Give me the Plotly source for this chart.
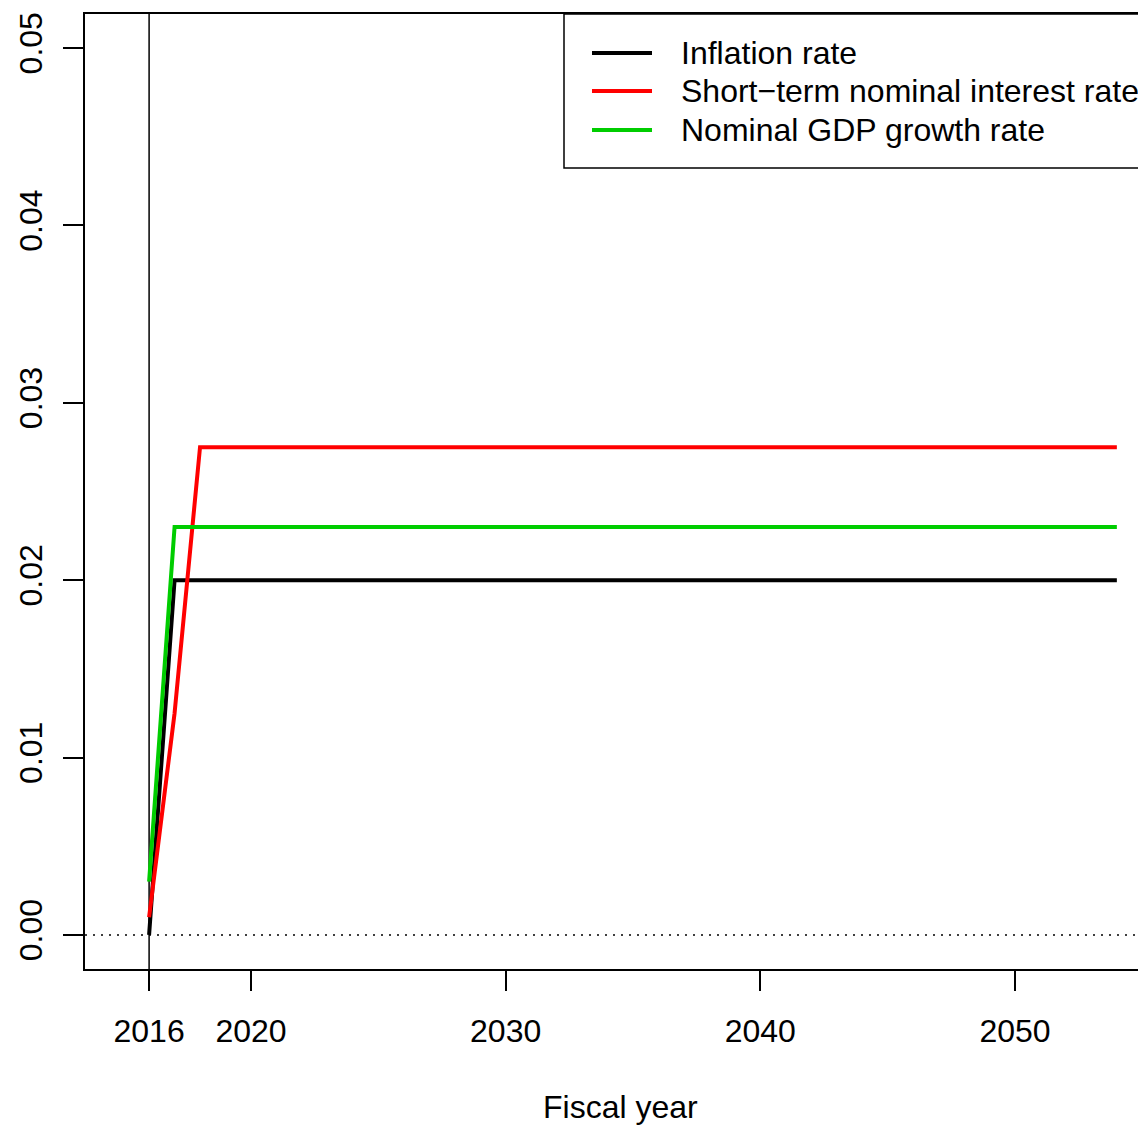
import plotly.graph_objects as go

years = list(range(2016, 2055))
n_after = len(years)
inflation = [0.000] + [0.020] * (n_after - 1)
interest = [0.001, 0.0125] + [0.0275] * (n_after - 2)
gdp_growth = [0.003] + [0.023] * (n_after - 1)

series_names = ["Inflation rate", "Short\u2212term nominal interest rate", "Nominal GDP growth rate"]
series_colors = ["#000000", "#FF0000", "#00CD00"]
series_values = [inflation, interest, gdp_growth]

x_tickvals = [2016, 2020, 2030, 2040, 2050]
x_ticktext = ["2016", "2020", "2030", "2040", "2050"]
y_tickvals = [0.00, 0.01, 0.02, 0.03, 0.04, 0.05]
y_ticktext = ["0.00", "0.01", "0.02", "0.03", "0.04", "0.05"]

# page body has an 8px default margin; figure is placed at (8, 8)
OFF = 8
W, H = 1146 - OFF, 1126 - OFF
ML, MR, MT = 85 - OFF, 0, 14 - OFF
MB = H - (969 - OFF)
PW, PH = W - ML - MR, H - MT - MB

FONT = "Liberation Sans, Arial, Helvetica, sans-serif"
FS = 32

fig = go.Figure()
for name, col, vals in zip(series_names, series_colors, series_values):
    fig.add_trace(go.Scatter(x=years, y=vals, mode="lines", name=name,
                             line=dict(color=col, width=4), showlegend=False))

# vertical reference line at 2016 and dotted zero line
fig.add_shape(type="line", xref="x", yref="paper", x0=2016, x1=2016, y0=0, y1=1,
              line=dict(color="black", width=1.5), layer="below")
fig.add_shape(type="line", xref="paper", yref="y", x0=0, x1=1.05, y0=0, y1=0,
              line=dict(color="black", width=1.5, dash="2px,6px"), layer="below")


# helpers converting reference-image pixels to paper fractions
def px_x(p):
    return (p - OFF - ML) / PW


def px_y(p):
    return 1 - (p - OFF - MT) / PH


fig.add_shape(type="rect", xref="paper", yref="paper",
              x0=px_x(564), x1=px_x(1170), y0=px_y(168), y1=1,
              line=dict(color="black", width=1.5), fillcolor="white")
leg_y = [53, 91, 130]
for name, col, yy in zip(series_names, series_colors, leg_y):
    fig.add_shape(type="line", xref="paper", yref="paper",
                  x0=px_x(592), x1=px_x(652), y0=px_y(yy), y1=px_y(yy),
                  line=dict(color=col, width=4))
    fig.add_annotation(xref="paper", yref="paper", x=px_x(679), y=px_y(yy),
                       text=name, showarrow=False, xanchor="left", yanchor="middle",
                       font=dict(family=FONT, size=FS, color="black"))

fig.add_annotation(xref="paper", yref="paper", x=px_x(620), y=px_y(1107),
                   text="Fiscal year", showarrow=False, xanchor="center", yanchor="middle",
                   font=dict(family=FONT, size=FS, color="black"))

x0 = 2016 - (149.1 - 85) / 25.467
x1 = 2016 + (1146 - 149.1) / 25.467
fig.update_layout(
    width=W, height=H,
    margin=dict(l=ML, r=MR, t=MT, b=MB, pad=0),
    paper_bgcolor="white", plot_bgcolor="white",
    font=dict(family=FONT, size=FS, color="black"),
    xaxis=dict(range=[x0, x1], tickvals=x_tickvals, ticktext=x_ticktext,
               showgrid=False, zeroline=False, showline=True, mirror=True,
               linecolor="black", linewidth=2, ticks="outside", ticklen=20,
               tickwidth=2, tickcolor="black", ticklabelstandoff=13,
               tickfont=dict(family=FONT, size=FS, color="black")),
    yaxis=dict(range=[-0.00192, 0.05192], tickvals=y_tickvals, ticktext=y_ticktext,
               showgrid=False, zeroline=False, showline=True, mirror=False,
               linecolor="black", linewidth=2, ticks="outside", ticklen=20,
               tickwidth=2, tickcolor="black", tickangle=-90, ticklabelstandoff=8,
               tickfont=dict(family=FONT, size=FS, color="black")),
)

fig.write_html("out.html")
